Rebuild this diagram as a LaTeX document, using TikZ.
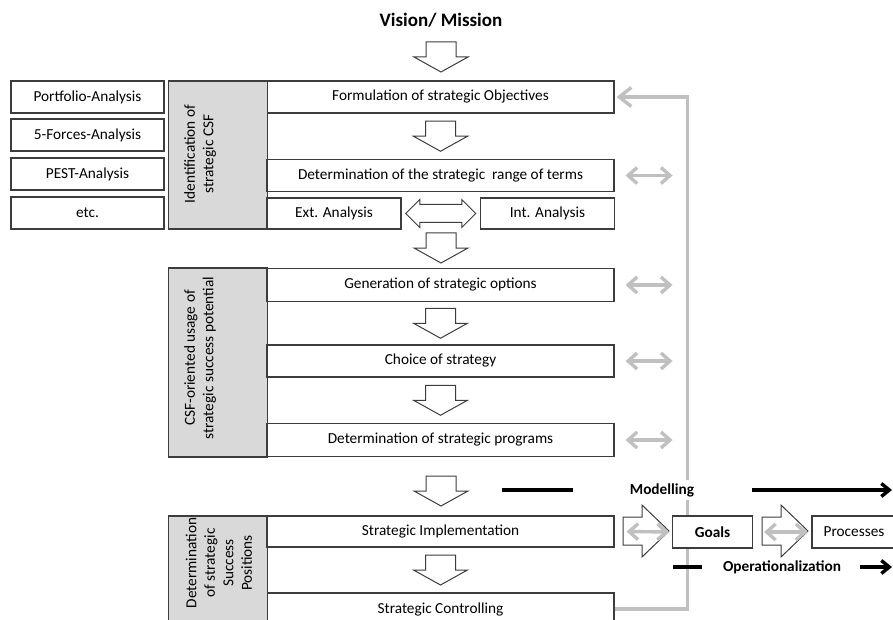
\documentclass[tikz,border=0pt]{standalone}
\usepackage{fontspec}
\setmainfont{Carlito}
\usetikzlibrary{arrows.meta,calc}
\definecolor{boxgray}{RGB}{217,217,217}
\definecolor{linkgray}{RGB}{192,192,192}
\definecolor{edgegray}{RGB}{60,60,60}
\tikzset{
  stagebox/.style  = {shape=rectangle, draw=edgegray, line width=1.1pt,
                      fill=white, inner sep=0pt,
                      minimum width=347, minimum height=32},
  sidebox/.style   = {stagebox, minimum width=134},
  toolbox/.style   = {stagebox, minimum width=153},
  phasebox/.style  = {stagebox, fill=boxgray, minimum width=99},
  resultbox/.style = {stagebox, minimum width=80},
  phasetext/.style = {rotate=90, align=center,
                      font=\fontsize{15.3}{18.5}\selectfont},
  boldtext/.style  = {font=\fontsize{15.3}{18}\selectfont\bfseries},
  link/.style      = {draw=linkgray, line width=3.4pt},
  flow/.style      = {draw=black, line width=3.4pt},
  barb/.tip        = {Straight Barb[length=9pt,width=16pt]},
  fbtip/.tip       = {Straight Barb[length=12pt,width=19pt]},
  flowtip/.tip     = {Straight Barb[length=8pt,width=13pt]},
  pics/blockdown/.style  = {code={
    \draw[edgegray, line width=1pt, fill=white]
      (-15,-15) -- (15,-15) -- (15,0) -- (27,0) -- (0,15)
      -- (-27,0) -- (-15,0) -- cycle;}},
  pics/blockright/.style = {code={
    \draw[edgegray, line width=1pt, fill=white]
      (-23,-14) -- (-4,-14) -- (-4,-26) -- (23,0) -- (-4,26)
      -- (-4,14) -- (-23,14) -- cycle;}},
  pics/blockboth/.style  = {code={
    \draw[edgegray, line width=1pt, fill=white]
      (-35,0) -- (-21,-14) -- (-21,-9) -- (21,-9) -- (21,-14) -- (35,0)
      -- (21,14) -- (21,9) -- (-21,9) -- (-21,14) -- cycle;}}
}

\begin{document}
\begin{tikzpicture}
  [
    x = 1pt, y = -1pt,
    every node/.style = {font=\fontsize{15.3}{18}\selectfont}
  ]
 \clip (0,0) rectangle (893,620);

 % feedback line, drawn first so boxes and labels sit on it
 \node[stagebox] (form)   at (440.5,97)   {Formulation of strategic Objectives};
 \node[stagebox] (ctrl)   at (440.5,609)  {Strategic Controlling};
 \draw[link, -fbtip, shorten >=2pt]
   (ctrl.east) -- ++(73,0) |- (form.east);

 \node[boldtext, font=\fontsize{19}{22}\selectfont\bfseries] (vision) at (441,20) {Vision/ Mission};
 \pic at (441,57) {blockdown};

 % identification of strategic CSF
 \node[phasebox, minimum height=148] (idphase) at (218,155) {};
 \node[phasetext] (idtext) at (200,154) {Identification of\\strategic CSF};
 \node[toolbox] (portfolio) at (87.5,97)  {Portfolio-Analysis};
 \node[toolbox] (forces)    at (87.5,135) {5-Forces-Analysis};
 \node[toolbox] (pest)      at (87.5,174) {PEST-Analysis};
 \node[toolbox] (etc)       at (87.5,213) {etc.};
 \node[stagebox] (range) at (440.5,175.5) {Determination of the strategic\ \ range of terms};
 \pic at ($(form.south)!0.5!(range.north)$) {blockdown};
 \node[sidebox, minimum height=31] (ext) at (334,213.5)   {Ext. Analysis};
 \node[sidebox, minimum height=31] (int) at (547.5,213.5) {Int. Analysis};
 \pic at ($(ext.east)!0.5!(int.west)$) {blockboth};
 \pic at (441,248) {blockdown};

 % CSF-oriented usage
 \node[phasebox, minimum height=189] (csfphase) at (218,362.5) {};
 \node[phasetext] (csftext) at (200,358) {CSF-oriented usage of\\strategic success potential};
 \node[stagebox, minimum height=33] (options) at (440.5,285) {Generation of strategic options};
 \node[stagebox] (choice) at (440.5,361) {Choice of strategy};
 \node[stagebox, minimum height=33] (programs) at (440.5,440) {Determination of strategic programs};
 \pic at ($(options.south)!0.5!(choice.north)$) {blockdown};
 \pic at ($(choice.south)!0.5!(programs.north)$) {blockdown};
 \pic at (441,491) {blockdown};

 % determination of strategic success positions
 \node[phasebox, minimum height=110] (spphase) at (218,571) {};
 \node[phasetext] (sptext) at (219,563) {Determination\\of strategic\\Success\\Positions};
 \node[stagebox, minimum height=31] (impl) at (440.5,531.5) {Strategic Implementation};
 \pic at ($(impl.south)!0.5!(ctrl.north)$) {blockdown};

 \foreach \n in {range,options,choice,programs}
   \draw[link, barb-barb] ($(\n.east)+(11,0)$) -- ++(47,0);

 % modelling and operationalization
 \node[resultbox] (goals) at (712.5,532) {\bfseries Goals};
 \node[resultbox, minimum width=84] (processes) at (854,532) {Processes};
 \pic at (646,531) {blockright};
 \pic at (785,531) {blockright};
 \draw[link, barb-barb] ($(impl.east)+(12,0)$) -- ($(goals.west)+(-3,0)$);
 \draw[link, barb-barb] ($(goals.east)+(11,0)$) -- ($(processes.west)+(-4,0)$);

 \node[boldtext, fill=white, inner sep=3pt] (model) at (662,490) {Modelling};
 \coordinate (m1) at (502,490);
 \coordinate (m2) at (573,490);
 \coordinate (m3) at (752,490);
 \coordinate (m4) at (892,490);
 \draw[flow] (m1) -- (m2);
 \draw[flow, -flowtip] (m3) -- (m4);

 \node[boldtext] (oper) at (782,567) {Operationalization};
 \coordinate (o1) at (673,567);
 \coordinate (o2) at (702,567);
 \coordinate (o3) at (860,567);
 \coordinate (o4) at (892,567);
 \draw[flow] (o1) -- (o2);
 \draw[flow, -flowtip] (o3) -- (o4);
\end{tikzpicture}
\end{document}
